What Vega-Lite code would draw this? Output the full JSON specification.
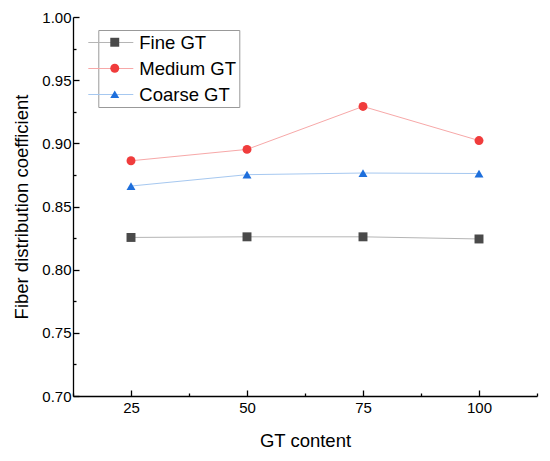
{
  "$schema": "https://vega.github.io/schema/vega-lite/v6.json",
  "width": 464,
  "height": 379,
  "autosize": {"type": "none"},
  "padding": {"left": 73, "top": 17, "right": 13, "bottom": 65},
  "background": "white",
  "config": {
    "view": {"stroke": null},
    "font": "Liberation Sans",
    "axis": {
      "grid": false,
      "domainColor": "black",
      "tickColor": "black",
      "labelColor": "black",
      "titleColor": "black",
      "labelFont": "Liberation Sans",
      "titleFont": "Liberation Sans",
      "labelFontSize": 15,
      "titleFontSize": 18.5,
      "titleFontWeight": "normal",
      "domainWidth": 1.3,
      "tickWidth": 1.3
    }
  },
  "data": {
    "values": [
      {"content": 25, "series": "Fine GT", "value": 0.8255},
      {"content": 50, "series": "Fine GT", "value": 0.826},
      {"content": 75, "series": "Fine GT", "value": 0.826},
      {"content": 100, "series": "Fine GT", "value": 0.8243},
      {"content": 25, "series": "Medium GT", "value": 0.8862},
      {"content": 50, "series": "Medium GT", "value": 0.8952},
      {"content": 75, "series": "Medium GT", "value": 0.9292},
      {"content": 100, "series": "Medium GT", "value": 0.9022},
      {"content": 25, "series": "Coarse GT", "value": 0.8662},
      {"content": 50, "series": "Coarse GT", "value": 0.8752},
      {"content": 75, "series": "Coarse GT", "value": 0.8765},
      {"content": 100, "series": "Coarse GT", "value": 0.8761}
    ]
  },
  "resolve": {"legend": {"stroke": "independent", "fill": "independent", "shape": "independent"}},
  "encoding": {
    "x": {
      "field": "content",
      "type": "quantitative",
      "scale": {"domain": [12.5, 112.5], "nice": false, "zero": false},
      "axis": {
        "title": "GT content",
        "values": [12.5, 25, 37.5, 50, 62.5, 75, 87.5, 100, 112.5],
        "labelExpr": "datum.value % 25 === 0 ? datum.label : ''",
        "tickSize": {"condition": {"test": "datum.value % 25 === 0", "value": -6}, "value": -3},
        "labelPadding": 10,
        "titlePadding": 16
      }
    },
    "y": {
      "field": "value",
      "type": "quantitative",
      "scale": {"domain": [0.7, 1.0], "nice": false, "zero": false},
      "axis": {
        "title": "Fiber distribution coefficient",
        "values": [0.7, 0.725, 0.75, 0.775, 0.8, 0.825, 0.85, 0.875, 0.9, 0.925, 0.95, 0.975, 1.0],
        "format": ".2f",
        "labelExpr": "round(datum.value * 1000) % 50 === 0 ? datum.label : ''",
        "tickSize": {"condition": {"test": "round(datum.value * 1000) % 50 === 0", "value": -6}, "value": -3},
        "labelPadding": 8,
        "titlePadding": 10
      }
    }
  },
  "layer": [
    {
      "mark": {"type": "line", "strokeWidth": 1},
      "encoding": {
        "stroke": {
          "field": "series",
          "type": "nominal",
          "scale": {"domain": ["Fine GT", "Medium GT", "Coarse GT"], "range": ["#b5b5b5", "#f7a8a8", "#a6c8f0"]},
          "legend": {
            "orient": "none",
            "legendX": 25.3,
            "legendY": 13,
            "title": null,
            "symbolType": "M-2.5,0H2.5",
            "symbolSize": 324,
            "symbolStrokeWidth": 1,
            "labelFontSize": 18.5,
            "labelFont": "Liberation Sans",
            "labelColor": "black",
            "labelOffset": 19,
            "rowPadding": 7,
            "padding": 3,
            "strokeColor": "#999999"
          }
        }
      }
    },
    {
      "mark": {"type": "point", "filled": true, "opacity": 1, "size": 80},
      "encoding": {
        "fill": {
          "field": "series",
          "type": "nominal",
          "scale": {"domain": ["Fine GT", "Medium GT", "Coarse GT"], "range": ["#4a4a4a", "#f03c3c", "#1e6fdc"]},
          "legend": {
            "orient": "none",
            "legendX": 29.5,
            "legendY": 13,
            "title": null,
            "symbolSize": 80,
            "symbolOpacity": 1,
            "symbolStrokeWidth": 0,
            "labelFontSize": 18.5,
            "labelFont": "Liberation Sans",
            "labelExpr": "''",
            "labelOffset": 6,
            "rowPadding": 7,
            "padding": 3,
            "zindex": 1
          }
        },
        "shape": {
          "field": "series",
          "type": "nominal",
          "scale": {"domain": ["Fine GT", "Medium GT", "Coarse GT"], "range": ["square", "circle", "triangle-up"]},
          "legend": {
            "orient": "none",
            "legendX": 29.5,
            "legendY": 13,
            "title": null,
            "symbolSize": 80,
            "symbolOpacity": 1,
            "symbolStrokeWidth": 0,
            "labelFontSize": 18.5,
            "labelFont": "Liberation Sans",
            "labelExpr": "''",
            "labelOffset": 6,
            "rowPadding": 7,
            "padding": 3,
            "zindex": 1
          }
        }
      }
    }
  ]
}
